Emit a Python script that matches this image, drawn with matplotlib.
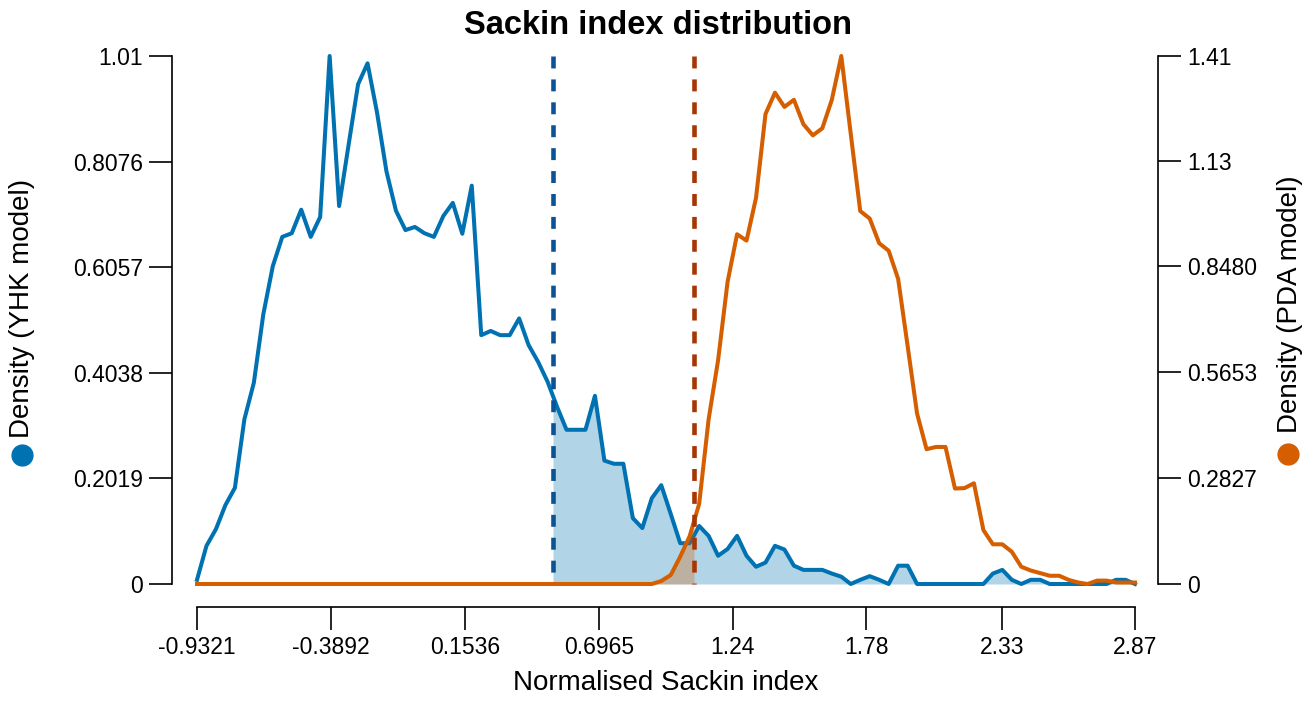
import numpy as np
import matplotlib
matplotlib.use("Agg")
import matplotlib.pyplot as plt
from matplotlib.lines import Line2D

plt.rcParams['font.family'] = ['Liberation Sans', 'DejaVu Sans']
plt.rcParams['lines.scale_dashes'] = False

# density curves on a common grid of normalised Sackin index values
x_lo, x_hi = -0.9321, 2.87
yhk_density = [
    0.008, 0.073, 0.105, 0.151, 0.184, 0.315, 0.385, 0.516, 0.608, 0.664,
    0.671, 0.716, 0.664, 0.702, 1.010, 0.723, 0.840, 0.956, 0.996, 0.902,
    0.789, 0.714, 0.677, 0.683, 0.671, 0.664, 0.704, 0.729, 0.670, 0.762,
    0.476, 0.484, 0.476, 0.476, 0.508, 0.457, 0.425, 0.387, 0.339, 0.295,
    0.295, 0.295, 0.360, 0.236, 0.230, 0.230, 0.126, 0.107, 0.164, 0.189,
    0.134, 0.078, 0.078, 0.111, 0.092, 0.054, 0.067, 0.092, 0.054, 0.033,
    0.041, 0.073, 0.066, 0.035, 0.027, 0.027, 0.027, 0.020, 0.014, 0.000,
    0.008, 0.015, 0.008, 0.000, 0.035, 0.035, 0.000, 0.000, 0.000, 0.000,
    0.000, 0.000, 0.000, 0.000, 0.020, 0.027, 0.008, 0.000, 0.008, 0.008,
    0.000, 0.000, 0.000, 0.000, 0.000, 0.000, 0.000, 0.008, 0.008, 0.000,
]
pda_density = [
    0.000, 0.000, 0.000, 0.000, 0.000, 0.000, 0.000, 0.000, 0.000, 0.000,
    0.000, 0.000, 0.000, 0.000, 0.000, 0.000, 0.000, 0.000, 0.000, 0.000,
    0.000, 0.000, 0.000, 0.000, 0.000, 0.000, 0.000, 0.000, 0.000, 0.000,
    0.000, 0.000, 0.000, 0.000, 0.000, 0.000, 0.000, 0.000, 0.000, 0.000,
    0.000, 0.000, 0.000, 0.000, 0.000, 0.000, 0.000, 0.000, 0.000, 0.008,
    0.024, 0.073, 0.128, 0.214, 0.440, 0.598, 0.807, 0.934, 0.917, 1.031,
    1.255, 1.312, 1.274, 1.293, 1.228, 1.198, 1.217, 1.293, 1.410, 1.202,
    0.996, 0.976, 0.910, 0.890, 0.815, 0.636, 0.455, 0.360, 0.366, 0.366,
    0.255, 0.256, 0.269, 0.144, 0.106, 0.106, 0.086, 0.046, 0.036, 0.029,
    0.022, 0.022, 0.011, 0.004, 0.000, 0.009, 0.009, 0.004, 0.004, 0.004,
]
yhk_cut = 0.511    # blue dashed marker
pda_cut = 1.0825   # orange dashed marker

x_ticks = [-0.9321, -0.3892, 0.1536, 0.6965, 1.24, 1.78, 2.33, 2.87]
x_tick_labels = ['-0.9321', '-0.3892', '0.1536', '0.6965', '1.24', '1.78', '2.33', '2.87']
yhk_ticks = [0, 0.2019, 0.4038, 0.6057, 0.8076, 1.01]
yhk_tick_labels = ['0', '0.2019', '0.4038', '0.6057', '0.8076', '1.01']
pda_ticks = [0, 0.2827, 0.5653, 0.8480, 1.13, 1.41]
pda_tick_labels = ['0', '0.2827', '0.5653', '0.8480', '1.13', '1.41']

blue = '#0072b2'
orange = '#d55e00'
blue_dark = '#0b5394'
orange_dark = '#a63603'

W, H = 1316, 702
fig = plt.figure(figsize=(W / 100, H / 100), dpi=100)
ax = fig.add_axes([197 / W, (H - 584) / H, 938 / W, 528 / H])
ax2 = ax.twinx()

x = np.linspace(x_lo, x_hi, len(yhk_density))
yhk = np.array(yhk_density)
pda = np.array(pda_density)

# shaded tails
mask = x > yhk_cut
xf = np.concatenate([[yhk_cut], x[mask]])
yf = np.concatenate([[np.interp(yhk_cut, x, yhk)], yhk[mask]])
ax.fill_between(xf, 0, yf, color=blue, alpha=0.3, linewidth=0)

mask = x < pda_cut
xf = np.concatenate([x[mask], [pda_cut]])
yf = np.concatenate([pda[mask], [np.interp(pda_cut, x, pda)]])
ax2.fill_between(xf, 0, yf, color=orange, alpha=0.3, linewidth=0)

ax.plot(x, yhk, color=blue, lw=2.9, clip_on=False)
ax.plot([yhk_cut, yhk_cut], [1.01, 0], color=blue_dark, lw=3.3,
        dashes=(8.6, 7.9), clip_on=False)
ax2.plot(x, pda, color=orange, lw=2.9, clip_on=False)
ax2.plot([pda_cut, pda_cut], [1.41, 0], color=orange_dark, lw=3.3,
         dashes=(8.6, 7.9), clip_on=False)

ax.set_xlim(x_lo, x_hi)
ax.set_ylim(0, 1.01)
ax2.set_ylim(0, 1.41)

ax.set_xticks(x_ticks)
ax.set_xticklabels(x_tick_labels)
ax.set_yticks(yhk_ticks)
ax.set_yticklabels(yhk_tick_labels)
ax2.set_yticks(pda_ticks)
ax2.set_yticklabels(pda_tick_labels)

for a in (ax, ax2):
    for s in a.spines.values():
        s.set_visible(False)
        s.set_linewidth(1.2)
    a.tick_params(labelsize=16.5, length=16.5, width=1.2, pad=4.5)

ax.spines['left'].set_visible(True)
ax.spines['left'].set_position(('outward', 18))
ax.spines['left'].set_bounds(0, 1.01)
ax.spines['bottom'].set_visible(True)
ax.spines['bottom'].set_position(('outward', 16.5))
ax.spines['bottom'].set_bounds(x_lo, x_hi)
ax2.spines['right'].set_visible(True)
ax2.spines['right'].set_position(('outward', 16.5))
ax2.spines['right'].set_bounds(0, 1.41)

ax.set_xlabel('Normalised Sackin index', fontsize=20, labelpad=8)
fig.text(0.5, 1 - 25 / H, 'Sackin index distribution', fontsize=23.5,
         fontweight='bold', ha='center', va='center')

# axis labels with coloured dots
fig.text(22 / W, 1 - 438 / H, 'Density (YHK model)', rotation=90,
         ha='center', va='bottom', fontsize=20)
fig.add_artist(Line2D([22 / W], [1 - 455 / H], marker='o', markersize=15,
                      color=blue, transform=fig.transFigure))
fig.text(1290 / W, 1 - 433 / H, 'Density (PDA model)', rotation=90,
         ha='center', va='bottom', fontsize=20)
fig.add_artist(Line2D([1288 / W], [1 - 454 / H], marker='o', markersize=15,
                      color=orange, transform=fig.transFigure))

fig.savefig('out.png', dpi=100)
